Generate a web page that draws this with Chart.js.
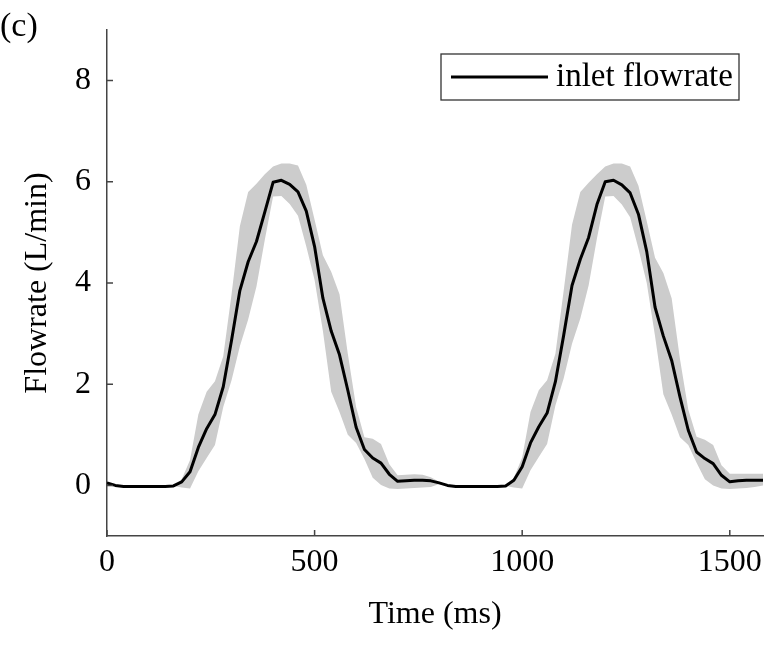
<!DOCTYPE html>
<html><head><meta charset="utf-8">
<script src="https://cdn.jsdelivr.net/npm/chart.js@4.4.1/dist/chart.umd.min.js"></script>
<style>html,body{margin:0;padding:0;background:#fff}</style>
</head><body>
<canvas id="c" width="772" height="646"></canvas>
<script>
const timeMs = [0,20,40,60,80,100,120,140,160,180,200,220,240,260,280,300,320,340,360,380,
 400,420,440,460,480,500,520,540,560,580,600,620,640,660,680,700,720,740,760,780,
 800,820,840,860,880,900,920,940,960,980,1000,1020,1040,1060,1080,1100,1120,1140,1160,1180,
 1200,1220,1240,1260,1280,1300,1320,1340,1360,1380,1400,1420,1440,1460,1480,1500,1520,1540,1560,1580];

const meanFlow = [0.05,0.00,-0.02,-0.02,-0.02,-0.02,-0.02,-0.02,-0.01,0.07,
 0.27,0.75,1.12,1.40,1.95,2.87,3.85,4.42,4.82,5.40,
 5.99,6.03,5.95,5.80,5.42,4.72,3.70,3.05,2.58,1.88,
 1.15,0.71,0.54,0.44,0.22,0.08,0.09,0.10,0.10,0.09,
 0.05,0.00,-0.02,-0.02,-0.02,-0.02,-0.02,-0.02,-0.01,0.10,
 0.37,0.84,1.16,1.43,2.05,2.97,3.95,4.47,4.90,5.55,
 6.00,6.03,5.94,5.78,5.36,4.62,3.52,2.95,2.47,1.75,
 1.09,0.66,0.53,0.43,0.20,0.07,0.09,0.10,0.10,0.10];

const upperFlow = [0.05,0.00,-0.02,-0.02,-0.02,-0.02,-0.02,-0.02,-0.01,0.12,
 0.50,1.40,1.85,2.06,2.55,3.78,5.12,5.80,5.96,6.15,
 6.30,6.36,6.36,6.32,5.94,5.25,4.55,4.22,3.78,2.60,
 1.55,0.95,0.92,0.82,0.42,0.20,0.21,0.22,0.21,0.16,
 0.07,0.01,-0.02,-0.02,-0.02,-0.02,-0.02,-0.02,-0.01,0.15,
 0.55,1.45,1.88,2.08,2.60,3.85,5.15,5.80,5.98,6.15,
 6.30,6.36,6.36,6.30,5.92,5.22,4.50,4.20,3.70,2.50,
 1.50,0.96,0.90,0.80,0.40,0.23,0.23,0.23,0.23,0.23];

const lowerFlow = [0.05,0.00,-0.02,-0.02,-0.02,-0.02,-0.02,-0.02,-0.01,-0.04,
 -0.06,0.28,0.54,0.80,1.55,2.08,2.75,3.28,3.93,4.85,
 5.71,5.72,5.56,5.33,4.72,4.06,3.05,1.85,1.45,1.00,
 0.84,0.52,0.15,0.01,-0.06,-0.07,-0.06,-0.05,-0.04,-0.03,
 0.03,-0.01,-0.02,-0.02,-0.02,-0.02,-0.02,-0.02,-0.01,-0.04,
 -0.06,0.30,0.56,0.82,1.58,2.12,2.80,3.30,3.95,4.88,
 5.71,5.72,5.55,5.30,4.68,4.00,2.95,1.80,1.40,0.95,
 0.80,0.45,0.12,0.00,-0.06,-0.07,-0.06,-0.05,-0.03,0.00];

const xTicks = [0,500,1000,1500];
const yTicks = [0,2,4,6,8];
const seriesLabel = 'inlet flowrate';
const panelLabel = '(c)';
const xTitle = 'Time (ms)';
const yTitle = 'Flowrate (L/min)';

function pickSerif() {
  const c = document.createElement('canvas').getContext('2d');
  const sample = 'abcdefghijklmnopqrstuvwxyzABCDEFGHIJ0123456789()';
  const cands = ['Liberation Serif', 'Times New Roman', 'Tinos', 'Times', 'DejaVu Serif', 'Noto Serif', 'FreeSerif', 'Nimbus Roman'];
  const base = {};
  ['monospace', 'sans-serif'].forEach(fb => { c.font = '30px ' + fb; base[fb] = c.measureText(sample).width; });
  for (const f of cands) {
    let found = false;
    ['monospace', 'sans-serif'].forEach(fb => {
      c.font = '30px "' + f + '", ' + fb;
      if (Math.abs(c.measureText(sample).width - base[fb]) > 0.5) found = true;
    });
    if (found) return '"' + f + '", serif';
  }
  return 'serif';
}
const serif = pickSerif();
const axisColor = '#444444';
const toXY = (xs, ys) => xs.map((x, i) => ({x: x, y: ys[i]}));
const noPad = s => { s.paddingTop = 0; s.paddingBottom = 0; s.paddingLeft = 0; s.paddingRight = 0; };

const extras = {
  id: 'extras',
  afterDatasetsDraw(chart) {
    const ctx = chart.ctx;
    const xs = chart.scales.x, ys = chart.scales.y, ca = chart.chartArea;
    ctx.save();
    ctx.strokeStyle = axisColor;
    ctx.lineWidth = 1.5;
    ctx.beginPath();
    xTicks.forEach(v => { const p = xs.getPixelForValue(v); ctx.moveTo(p, ca.bottom); ctx.lineTo(p, ca.bottom - 6); });
    yTicks.forEach(v => { const p = ys.getPixelForValue(v); ctx.moveTo(ca.left, p); ctx.lineTo(ca.left + 6, p); });
    ctx.stroke();
    ctx.restore();
  },
  afterDraw(chart) {
    const ctx = chart.ctx;
    ctx.save();
    ctx.fillStyle = '#000';
    ctx.font = '34px ' + serif;
    ctx.textAlign = 'left';
    ctx.textBaseline = 'alphabetic';
    ctx.fillText(panelLabel, 0, 36);
    const bx = 441, by = 54, bw = 298, bh = 46;
    ctx.fillStyle = '#fff';
    ctx.fillRect(bx, by, bw, bh);
    ctx.strokeStyle = '#333';
    ctx.lineWidth = 1.3;
    ctx.strokeRect(bx, by, bw, bh);
    ctx.strokeStyle = '#000';
    ctx.lineWidth = 3;
    ctx.beginPath();
    ctx.moveTo(451, 77); ctx.lineTo(548, 77);
    ctx.stroke();
    ctx.fillStyle = '#000';
    ctx.font = '33px ' + serif;
    ctx.fillText(chart.data.datasets[0].label, 556, 86);
    ctx.restore();
  }
};

new Chart(document.getElementById('c'), {
  type: 'line',
  data: {
    datasets: [
      {label: seriesLabel, data: toXY(timeMs, meanFlow), borderColor: '#000', borderWidth: 3,
       pointRadius: 0, fill: false, tension: 0, borderJoinStyle: 'round'},
      {label: 'upper', data: toXY(timeMs, upperFlow), borderColor: 'rgba(0,0,0,0)', borderWidth: 0,
       backgroundColor: '#cccccc', pointRadius: 0, fill: '+1', tension: 0},
      {label: 'lower', data: toXY(timeMs, lowerFlow), borderColor: 'rgba(0,0,0,0)', borderWidth: 0,
       pointRadius: 0, fill: false, tension: 0}
    ]
  },
  options: {
    responsive: false,
    animation: false,
    layout: {padding: {left: 0, top: 30, right: 9, bottom: 0}},
    plugins: {legend: {display: false}, tooltip: {enabled: false}},
    scales: {
      x: {
        type: 'linear', min: 0, max: 1580,
        afterBuildTicks: s => { s.ticks = xTicks.map(v => ({value: v})); },
        afterFit: s => { s.height = 110; noPad(s); },
        grid: {display: false, drawTicks: false, tickLength: 0},
        border: {display: true, color: axisColor, width: 1.5},
        ticks: {font: {family: serif, size: 32}, color: '#000', padding: 7, maxRotation: 0, autoSkip: false,
                callback: v => String(v)},
        title: {display: true, text: xTitle, font: {family: serif, size: 32}, color: '#000', padding: {top: 0, bottom: 12}}
      },
      y: {
        min: -1, max: 9,
        afterBuildTicks: s => { s.ticks = yTicks.map(v => ({value: v})); },
        afterFit: s => { s.width = 107; noPad(s); },
        grid: {display: false, drawTicks: false, tickLength: 0},
        border: {display: true, color: axisColor, width: 1.5},
        ticks: {font: {family: serif, size: 32}, color: '#000', padding: 16, autoSkip: false,
                callback: v => String(v)},
        title: {display: true, text: yTitle, font: {family: serif, size: 32}, color: '#000', padding: {top: 18, bottom: 0}}
      }
    }
  },
  plugins: [extras]
});
</script>
</body></html>
